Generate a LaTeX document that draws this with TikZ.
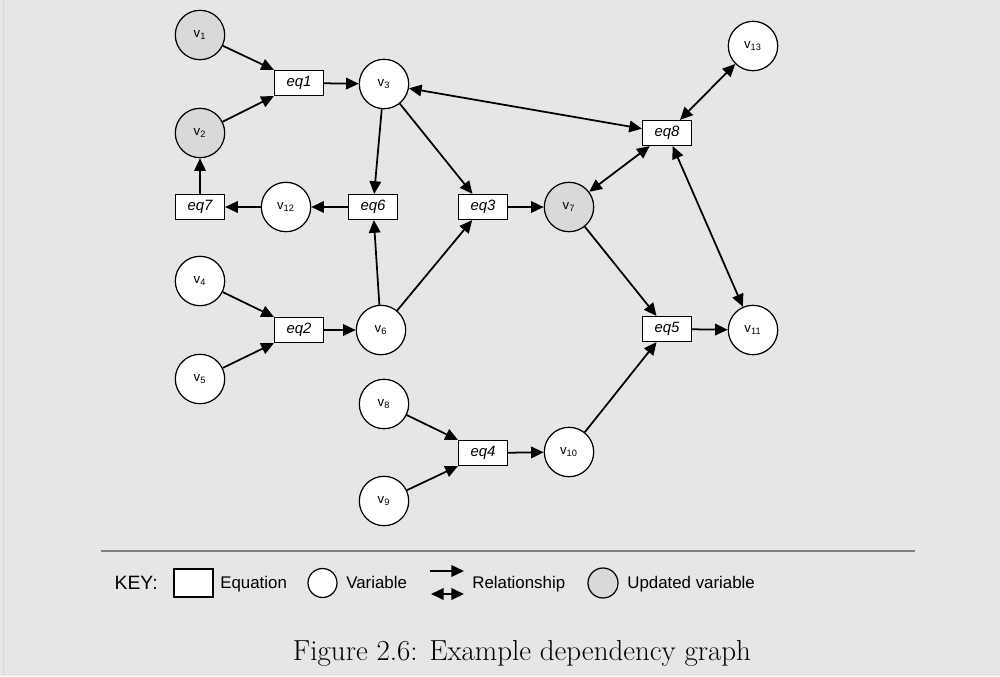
\documentclass[tikz,border=0pt]{standalone}
\usepackage{fontspec}
\newfontfamily\arialfont{Liberation Sans}
\usetikzlibrary{arrows.meta}
\definecolor{bgfill}{RGB}{230,230,230}
\definecolor{updfill}{RGB}{217,217,217}
\definecolor{rulecol}{RGB}{128,128,128}
\definecolor{framecol}{RGB}{214,214,214}
\begin{document}
\begin{tikzpicture}[x=0.02cm, y=-0.02cm,
  var/.style={circle, draw, line width=0.7pt, fill=white, minimum size=0.988cm, inner sep=0pt,
    font=\arialfont\fontsize{7.5}{9}\selectfont},
  updvar/.style={var, fill=updfill},
  eqbox/.style={rectangle, draw, line width=0.7pt, fill=white, minimum width=0.98cm, minimum height=0.5cm,
    inner sep=0pt, font=\arialfont\itshape\fontsize{8.5}{10}\selectfont},
  dep/.style={-{Triangle[length=7.2pt,width=6.6pt]}, line width=1pt},
  bidep/.style={{Triangle[length=7.2pt,width=6.6pt]}-{Triangle[length=7.2pt,width=6.6pt]}, line width=1pt},
  keytext/.style={inner sep=0pt, font=\arialfont\fontsize{9.6}{11}\selectfont}]

  \fill[bgfill] (0,0) rectangle (1000,676);
  \useasboundingbox (0,0) rectangle (1000,676);
  \draw[framecol, line width=0.4pt] (3.5,0) -- (3.5,676);

  % variables and equations
  \node[updvar] (v1) at (200,35) {v\textsubscript{1}};
  \node[updvar] (v2) at (200,133) {v\textsubscript{2}};
  \node[eqbox] (eq1) at (299,83) {eq1};
  \node[var] (v3) at (384,84) {v\textsubscript{3}};
  \node[eqbox] (eq7) at (200,207) {eq7};
  \node[var] (v12) at (286,207) {v\textsubscript{12}};
  \node[eqbox] (eq6) at (373,207) {eq6};
  \node[eqbox] (eq3) at (483,207) {eq3};
  \node[updvar] (v7) at (569,207) {v\textsubscript{7}};
  \node[eqbox] (eq8) at (667,133) {eq8};
  \node[var] (v13) at (753,46) {v\textsubscript{13}};
  \node[var] (v4) at (200,281) {v\textsubscript{4}};
  \node[var] (v5) at (200,379) {v\textsubscript{5}};
  \node[eqbox] (eq2) at (299,330) {eq2};
  \node[var] (v6) at (381,330) {v\textsubscript{6}};
  \node[eqbox] (eq5) at (667,329) {eq5};
  \node[var] (v11) at (753,330) {v\textsubscript{11}};
  \node[var] (v8) at (384,404) {v\textsubscript{8}};
  \node[var] (v9) at (384,501) {v\textsubscript{9}};
  \node[eqbox] (eq4) at (483,453) {eq4};
  \node[var] (v10) at (569,452) {v\textsubscript{10}};

  % dependencies
  \draw[dep] (v1) -- (eq1.north west);
  \draw[dep] (v2) -- (eq1.south west);
  \draw[dep] (eq1) -- (v3);
  \draw[dep] (v3) -- (eq6);
  \draw[dep] (v3) -- (eq3);
  \draw[dep] (eq6) -- (v12);
  \draw[dep] (v12) -- (eq7);
  \draw[dep] (eq7) -- (v2);
  \draw[dep] (v6) -- (eq6);
  \draw[dep] (v6) -- (eq3);
  \draw[dep] (eq3) -- (v7);
  \draw[dep] (v7) -- (eq5);
  \draw[dep] (v4) -- (eq2.north west);
  \draw[dep] (v5) -- (eq2.south west);
  \draw[dep] (eq2) -- (v6);
  \draw[dep] (v8) -- (eq4.north west);
  \draw[dep] (v9) -- (eq4.south west);
  \draw[dep] (eq4) -- (v10);
  \draw[dep] (v10) -- (eq5);
  \draw[dep] (eq5) -- (v11);
  \draw[bidep] (v3) -- (eq8);
  \draw[bidep] (eq8) -- (v13);
  \draw[bidep] (eq8) -- (v7);
  \draw[bidep] (eq8) -- (v11);

  \draw[rulecol, line width=1.1pt] (101,551) -- (915,551);

  % key
  \node[anchor=base east, inner sep=0pt, font=\arialfont\fontsize{11}{13}\selectfont] (keylab) at (158,589) {KEY:};
  \node[eqbox, minimum width=0.78cm, minimum height=0.56cm] (keyeq) at (193.5,583) {};
  \node[keytext, anchor=base west] (keyeqlab) at (220,588) {Equation};
  \node[var, minimum size=0.58cm] (keyvar) at (322.5,583) {};
  \node[keytext, anchor=base west] (keyvarlab) at (346,588) {Variable};
  \coordinate (relA) at (430,571);
  \coordinate (relB) at (464,571);
  \coordinate (relC) at (431,594);
  \coordinate (relD) at (464,594);
  \draw[dep] (relA) -- (relB);
  \draw[bidep] (relC) -- (relD);
  \node[keytext, anchor=base west] (keyrellab) at (472,588) {Relationship};
  \node[updvar, minimum size=0.6cm] (keyupd) at (603,583) {};
  \node[keytext, anchor=base west] (keyupdlab) at (627,588) {Updated variable};

  \node[anchor=base, inner sep=0pt, font=\fontsize{16.5}{20}\selectfont] (caption) at (522,660) {Figure 2.6: Example dependency graph};

\end{tikzpicture}
\end{document}
